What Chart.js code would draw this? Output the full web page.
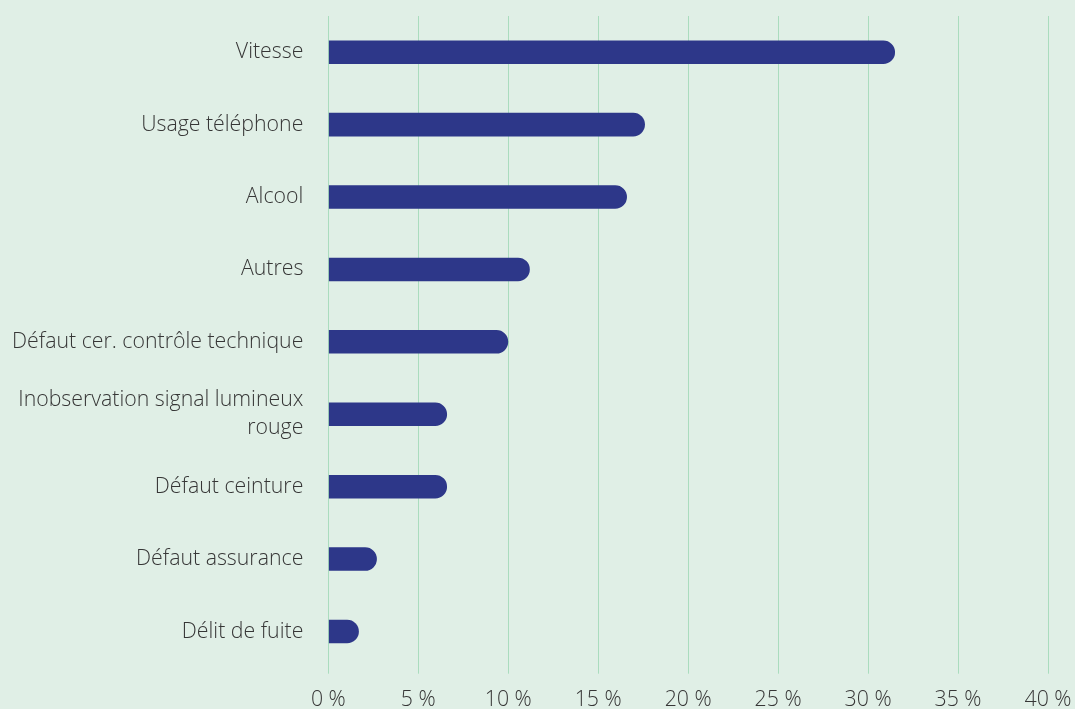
<!DOCTYPE html>
<html lang="fr">
<head>
<meta charset="utf-8">
<script src="https://cdn.jsdelivr.net/npm/chart.js@4/dist/chart.umd.min.js"></script>
<style>
    html, body { margin: 0; padding: 0; background: #e0efe6; overflow: hidden; }
    #wrap { width: 1075px; height: 726px; }
</style>
</head>
<body>
<div id="wrap"><canvas id="infractions"></canvas></div>
<script>
// catégories d'infractions et part en %
const categories = [
    'Vitesse',
    'Usage téléphone',
    'Alcool',
    'Autres',
    'Défaut cer. contrôle technique',
    ['Inobservation signal lumineux', 'rouge'],
    'Défaut ceinture',
    'Défaut assurance',
    'Délit de fuite'
];
const parts = [31.5, 17.6, 16.6, 11.2, 10.0, 6.6, 6.6, 2.7, 1.7];
const xTicks = [0, 5, 10, 15, 20, 25, 30, 35, 40];

const labelFont = { family: "'Open Sans', sans-serif", size: 21.3, weight: 300, lineHeight: 1.33 };

window.onload = function() {
    const ctx = document.getElementById('infractions').getContext('2d');
    new Chart(ctx, {
        type: 'bar',
        data: {
            labels: categories,
            datasets: [{
                data: parts,
                backgroundColor: '#2d3789',
                borderRadius: 20,       // arrondi côté droit seulement (borderSkipped = start)
                barPercentage: 0.325,
                categoryPercentage: 1
            }]
        },
        options: {
            indexAxis: 'y',
            responsive: true,
            maintainAspectRatio: false,
            animation: false,
            layout: { padding: { top: 16, right: 27, left: 12, bottom: 0 } },
            plugins: {
                legend: { display: false },
                tooltip: { enabled: false }
            },
            scales: {
                x: {
                    min: 0,
                    max: 40,
                    afterBuildTicks: axis => { axis.ticks = xTicks.map(v => ({ value: v })); },
                    // le libellé « 40 % » peut déborder dans la marge droite
                    afterFit: axis => { axis.paddingRight = 0; },
                    grid: { color: '#aadcbe', lineWidth: 1, tickLength: 6, drawTicks: true },
                    border: { display: false },
                    ticks: {
                        color: '#363636',
                        font: labelFont,
                        padding: 12,
                        maxRotation: 0,
                        callback: v => v + ' %'
                    }
                },
                y: {
                    // traits de graduation invisibles : écart entre libellés et axe
                    grid: { drawOnChartArea: false, drawTicks: true, tickLength: 25, color: 'rgba(0,0,0,0)' },
                    border: { display: false },
                    ticks: {
                        color: '#363636',
                        font: labelFont,
                        padding: 0
                    }
                }
            }
        }
    });
};
</script>
</body>
</html>
